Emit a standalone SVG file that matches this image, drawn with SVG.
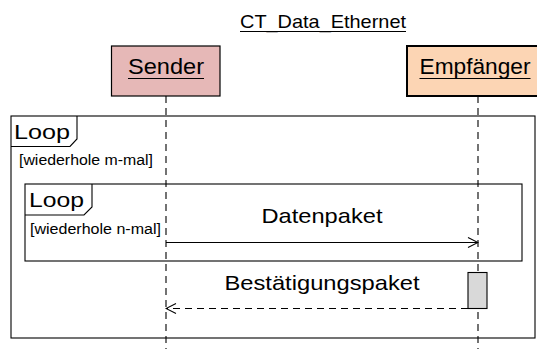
<svg xmlns="http://www.w3.org/2000/svg" width="537" height="349" viewBox="0 0 537 349">
  <style>
    text { font-family: "Liberation Sans", Arial, sans-serif; fill: #000; }
    .title { font-size: 19px; text-anchor: middle; }
    .actor { font-size: 22px; text-anchor: middle; }
    .msg { font-size: 21px; text-anchor: middle; }
    .op { font-size: 21px; }
    .guard { font-size: 14px; }
    .frame { fill: none; stroke: #000; stroke-width: 1.1; }
    .lifeline { stroke: #000; stroke-width: 1.1; stroke-dasharray: 7 5; fill: none; }
    .sync { stroke: #000; stroke-width: 1.1; fill: none; }
    .reply { stroke: #000; stroke-width: 1.1; stroke-dasharray: 7 5; fill: none; }
    .uline { stroke: #000; stroke-width: 1.1; }
  </style>
  <defs>
    <marker id="open" viewBox="0 0 12 12" refX="11" refY="6" markerWidth="12" markerHeight="12" markerUnits="userSpaceOnUse" orient="auto">
      <path d="M1,1 L11,6 L1,11" fill="none" stroke="#000" stroke-width="1.1"/>
    </marker>
  </defs>

  <rect width="537" height="349" fill="#fff"/>

  <!-- diagram title -->
  <g id="title">
    <text class="title" x="323" y="28" textLength="166" lengthAdjust="spacingAndGlyphs">CT_Data_Ethernet</text>
    <line class="uline" x1="240" y1="31.5" x2="406" y2="31.5"/>
  </g>

  <!-- lifelines -->
  <g id="lifelines">
    <line class="lifeline" x1="166" y1="96" x2="166" y2="349"/>
    <line class="lifeline" x1="478" y1="96" x2="478" y2="349"/>
  </g>

  <!-- participants -->
  <g id="sender">
    <rect x="111.5" y="46" width="108.5" height="50" fill="#e6b8b7" stroke="#000" stroke-width="1.2"/>
    <text class="actor" x="166" y="74" textLength="76" lengthAdjust="spacingAndGlyphs">Sender</text>
    <line class="uline" x1="128" y1="78.5" x2="204" y2="78.5"/>
  </g>
  <g id="empfaenger">
    <rect x="407" y="46" width="142" height="50" fill="#fcd5b4" stroke="#000" stroke-width="2"/>
    <text class="actor" x="475" y="74" textLength="111" lengthAdjust="spacingAndGlyphs">Empfänger</text>
    <line class="uline" x1="419.5" y1="78.5" x2="530.5" y2="78.5"/>
  </g>

  <!-- outer combined fragment -->
  <g id="loop-outer">
    <rect class="frame" x="11" y="116" width="524" height="222"/>
    <path class="frame" d="M11,146.5 H70 L77,139 V116"/>
    <text class="op" x="14" y="138.5" textLength="56" lengthAdjust="spacingAndGlyphs">Loop</text>
    <text class="guard" x="19" y="165" textLength="134" lengthAdjust="spacingAndGlyphs">[wiederhole m-mal]</text>
  </g>

  <!-- inner combined fragment -->
  <g id="loop-inner">
    <rect class="frame" x="25" y="184" width="497" height="77"/>
    <path class="frame" d="M25,215 H84 L92,207 V184"/>
    <text class="op" x="29" y="206.5" textLength="55" lengthAdjust="spacingAndGlyphs">Loop</text>
    <text class="guard" x="30" y="234" textLength="131" lengthAdjust="spacingAndGlyphs">[wiederhole n-mal]</text>
  </g>

  <!-- activation on the receiver -->
  <g id="activation">
    <rect x="468" y="272.5" width="19" height="36" fill="#d9d9d9" stroke="#000" stroke-width="1.1"/>
  </g>

  <!-- messages -->
  <g id="connectors">
    <line class="sync" x1="166" y1="242.5" x2="478" y2="242.5" marker-end="url(#open)"/>
    <line class="reply" x1="468" y1="308.5" x2="166" y2="308.5" marker-end="url(#open)"/>
  </g>
  <g id="labels">
    <text class="msg" x="322" y="223" textLength="121" lengthAdjust="spacingAndGlyphs">Datenpaket</text>
    <text class="msg" x="322" y="290" textLength="195" lengthAdjust="spacingAndGlyphs">Bestätigungspaket</text>
  </g>
</svg>
